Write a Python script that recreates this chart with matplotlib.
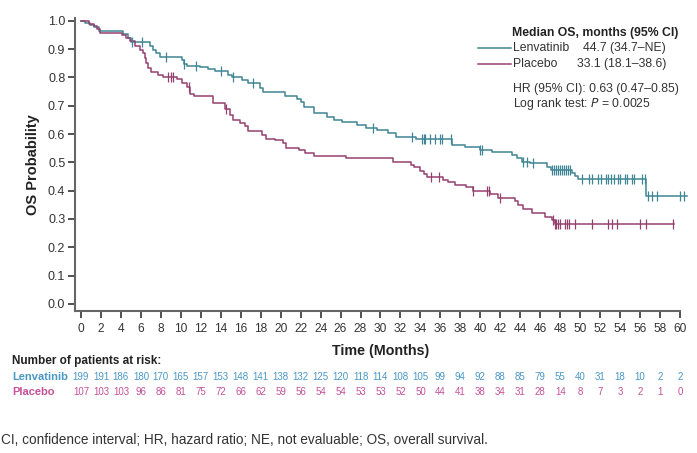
import numpy as np
import matplotlib.pyplot as plt

plt.rcParams['font.family'] = ['Liberation Sans', 'DejaVu Sans']

# Kaplan-Meier steps (time in months, survival after the step)
lenv_t = [0, 0.4, 0.9, 1.3, 1.8, 4.2, 4.7, 5.0, 6.9, 7.2, 7.5, 7.9, 10.1, 10.3, 10.6,
          11.9, 12.7, 13.4, 14.7, 15.1, 16.1, 16.7, 17.9, 18.2, 20.4, 21.6, 22.0, 22.3,
          23.3, 24.6, 25.3, 26.1, 27.6, 28.5, 29.6, 30.8, 31.6, 33.6, 37.2, 38.5, 40.0,
          41.2, 43.2, 43.7, 44.2, 45.0, 46.7, 47.1, 49.2, 49.5, 49.8, 56.6, 60.7]
lenv_s = [1.0, 0.992, 0.985, 0.977, 0.965, 0.952, 0.94, 0.925, 0.91, 0.898, 0.886, 0.872,
          0.86, 0.848, 0.842, 0.836, 0.83, 0.823, 0.81, 0.803, 0.79, 0.78, 0.762, 0.748,
          0.733, 0.723, 0.715, 0.697, 0.674, 0.662, 0.65, 0.643, 0.633, 0.623, 0.615,
          0.603, 0.589, 0.582, 0.562, 0.553, 0.544, 0.535, 0.527, 0.515, 0.503, 0.497,
          0.485, 0.473, 0.462, 0.453, 0.44, 0.382, 0.382]
lenv_cens = [5.1, 6.1, 8.5, 10.3, 11.5, 14.0, 15.2, 17.2, 29.2, 33.2, 34.2, 34.4, 34.5,
             35.0, 35.5, 36.0, 36.2, 37.1, 40.0, 40.2, 44.3, 44.7, 45.3, 47.2, 47.4, 47.6,
             47.8, 48.0, 48.2, 48.4, 48.6, 48.8, 49.0, 50.2, 50.9, 51.2, 51.8, 52.1, 52.6,
             52.8, 53.1, 53.4, 53.8, 54.0, 54.5, 54.7, 55.2, 55.4, 56.2, 56.5, 56.8, 57.2,
             57.7, 60.0, 60.4]

plac_t = [0, 0.8, 1.3, 1.6, 1.9, 4.1, 4.5, 4.9, 5.4, 5.9, 6.2, 6.4, 6.5, 6.7, 7.0, 7.7,
          8.2, 9.6, 10.1, 10.6, 10.9, 11.3, 13.2, 14.4, 14.9, 15.2, 15.9, 16.4, 16.7,
          18.1, 18.5, 19.4, 20.2, 20.5, 21.8, 22.4, 23.3, 26.5, 31.3, 33.1, 33.4, 34.0,
          34.4, 34.7, 36.3, 36.8, 37.5, 38.6, 39.3, 41.0, 41.8, 43.5, 43.8, 44.3, 45.2,
          46.5, 47.2, 47.5, 59.4]
plac_s = [1.0, 0.99, 0.98, 0.97, 0.958, 0.95, 0.94, 0.927, 0.91, 0.898, 0.886, 0.868,
          0.85, 0.833, 0.819, 0.809, 0.803, 0.795, 0.78, 0.768, 0.741, 0.733, 0.709, 0.69,
          0.668, 0.65, 0.638, 0.627, 0.611, 0.597, 0.582, 0.578, 0.567, 0.55, 0.544,
          0.532, 0.524, 0.515, 0.503, 0.491, 0.482, 0.468, 0.458, 0.45, 0.438, 0.43, 0.42,
          0.412, 0.40, 0.388, 0.373, 0.362, 0.35, 0.335, 0.32, 0.306, 0.297, 0.282, 0.282]
plac_cens = [8.7, 9.0, 9.2, 10.8, 14.5, 35.1, 35.9, 39.3, 40.7, 40.9, 42.0, 47.3, 47.5,
             47.6, 47.8, 48.0, 48.5, 48.7, 48.9, 49.5, 51.2, 52.8, 53.2, 53.7, 56.0, 56.6,
             59.3]

# patients at risk every 2 months
risk_times = list(range(0, 61, 2))
lenv_risk = [199, 191, 186, 180, 170, 165, 157, 153, 148, 141, 138, 132, 125, 120, 118,
             114, 108, 105, 99, 94, 92, 88, 85, 79, 55, 40, 31, 18, 10, 2, 2]
plac_risk = [107, 103, 103, 96, 86, 81, 75, 72, 66, 62, 59, 56, 54, 54, 53, 53, 52, 50,
             44, 41, 38, 34, 31, 28, 14, 8, 7, 3, 2, 1, 0]

lenv_col = '#3f8594'
plac_col = '#94406f'
lenv_txt = '#4a97c4'
plac_txt = '#c4519a'
W, H = 697, 453


def step_at(times, surv, x):
    idx = np.searchsorted(times, x, side='right') - 1
    return np.array(surv)[idx]


fig = plt.figure(figsize=(W / 100, H / 100), dpi=100)
ax = fig.add_axes([75 / W, 1 - 311 / H, 605 / W, 293 / H])

ax.step(lenv_t, lenv_s, where='post', color=lenv_col, lw=1.1, clip_on=False)
ax.step(plac_t, plac_s, where='post', color=plac_col, lw=1.1, clip_on=False)
ax.plot(lenv_cens, step_at(lenv_t, lenv_s, lenv_cens), ls='none', marker='|',
        ms=7, mew=0.9, color=lenv_col, clip_on=False)
ax.plot(plac_cens, step_at(plac_t, plac_s, plac_cens), ls='none', marker='|',
        ms=7, mew=0.9, color=plac_col, clip_on=False)

ax.set_xlim(-0.6, 60)
ax.set_ylim(-0.025, 1.01)
ax.set_xticks(risk_times)
ax.set_yticks(np.arange(0, 1.01, 0.1))
ax.set_yticklabels([f'{v:.1f}' for v in np.arange(0, 1.01, 0.1)])
ax.tick_params(labelsize=9, colors='#333333', length=5, width=1.2, pad=2)
ax.tick_params(axis='x', pad=4, labelsize=8.6)
for side in ['top', 'right']:
    ax.spines[side].set_visible(False)
for side in ['left', 'bottom']:
    ax.spines[side].set_color('#666666')
    ax.spines[side].set_linewidth(1.5)

ax.set_ylabel('OS Probability', fontsize=10.5, fontweight='bold', color='#222222', labelpad=6)
fig.text(381 / W, 1 - 351 / H, 'Time (Months)', fontsize=10.3, fontweight='bold',
         color='#222222', ha='center', va='center')

# legend box (top right)
fig.text(512 / W, 1 - 33 / H, 'Median OS, months (95% CI)', fontsize=8.8,
         fontweight='bold', color='#222222', va='center')
for py, name, val, col in [(48, 'Lenvatinib', '44.7 (34.7\u2013NE)', lenv_col),
                           (64, 'Placebo', '33.1 (18.1\u201338.6)', plac_col)]:
    fig.add_artist(plt.Line2D([478 / W, 511 / W], [1 - py / H, 1 - py / H],
                              color=col, lw=1.1))
    fig.text(513 / W, 1 - py / H, name, fontsize=8.8, color='#333333', va='center')
    fig.text(666 / W, 1 - py / H, val, fontsize=8.8, color='#333333', va='center', ha='right')
fig.text(513 / W, 1 - 89 / H, 'HR (95% CI): 0.63 (0.47\u20130.85)', fontsize=8.8,
         color='#333333', va='center')
fig.text(513 / W, 1 - 104 / H, 'Log rank test: $\\it{P}$ = 0.0025', fontsize=8.8,
         color='#333333', va='center')

# risk table
fig.text(12 / W, 1 - 361 / H, 'Number of patients at risk:', fontsize=8.5,
         fontweight='bold', color='#222222', va='center')
fig.text(12 / W, 1 - 377 / H, 'Lenvatinib', fontsize=8, fontweight='bold',
         color=lenv_txt, va='center')
fig.text(12 / W, 1 - 392 / H, 'Placebo', fontsize=8, fontweight='bold',
         color=plac_txt, va='center')
for t, a, b in zip(risk_times, lenv_risk, plac_risk):
    x_fig = fig.transFigure.inverted().transform(ax.transData.transform((t, 0)))[0]
    fig.text(x_fig, 1 - 377 / H, str(a), fontsize=7, color=lenv_txt, ha='center', va='center')
    fig.text(x_fig, 1 - 392 / H, str(b), fontsize=7, color=plac_txt, ha='center', va='center')

fig.text(1 / W, 1 - 440 / H, 'CI, confidence interval; HR, hazard ratio; NE, not evaluable; '
         'OS, overall survival.', fontsize=9.8, color='#333333', va='center')

plt.savefig('out.png', dpi=100)
